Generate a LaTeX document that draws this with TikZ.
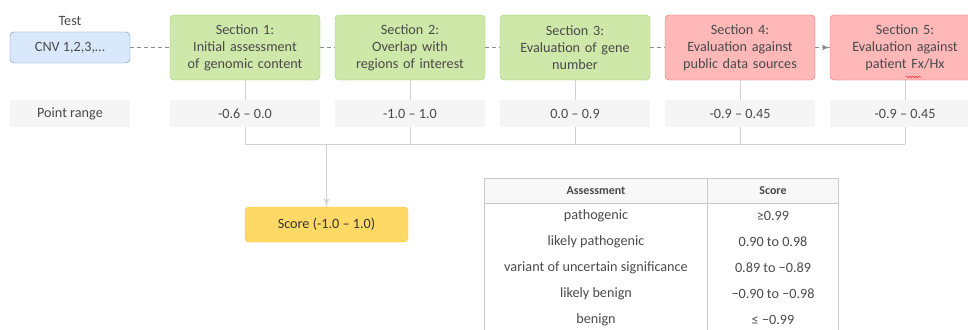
\documentclass[tikz,border=0pt]{standalone}
\usepackage{fontspec}
\setmainfont{Carlito}
\usetikzlibrary{arrows}
\usetikzlibrary{decorations.markings}
\usetikzlibrary{decorations.pathmorphing}
\definecolor{txtgray}{HTML}{4A4A4A}
\definecolor{lnkgray}{HTML}{D2D2D2}
\definecolor{dshgray}{HTML}{8C8C8C}
\definecolor{cnvfill}{HTML}{DAE8FC}
\definecolor{cnvdraw}{HTML}{6C8EBF}
\definecolor{grnfill}{HTML}{CDE8A8}
\definecolor{grndraw}{HTML}{97D077}
\definecolor{redfill}{HTML}{FFB8B8}
\definecolor{reddraw}{HTML}{EA6B66}
\definecolor{ylwfill}{HTML}{FFD966}
\definecolor{ylwdraw}{HTML}{F2C037}
\definecolor{rngfill}{HTML}{F5F5F5}
\definecolor{tblline}{HTML}{C9C9C9}
\tikzset{basebox/.style = {rounded corners=4pt, inner sep=0pt, align=center, text=txtgray,
                           font=\fontsize{14.2}{17}\selectfont},
         secbox/.style = {basebox, minimum width=150pt, minimum height=65pt, text width=148pt},
         grnbox/.style = {secbox, fill=grnfill, draw=grndraw},
         redbox/.style = {secbox, fill=redfill, draw=reddraw},
         rangebox/.style = {basebox, rounded corners=0pt, fill=rngfill, minimum width=150pt, minimum height=27pt},
         cellnode/.style = {text=txtgray, inner sep=0pt, font=\fontsize{14.2}{16}\selectfont},
         headnode/.style = {cellnode, font=\fontsize{12}{14}\selectfont\bfseries},
         graylink/.style = {lnkgray, line width=1pt},
         dashlink/.style = {dshgray, dashed, dash pattern=on 4pt off 3pt, line width=0.8pt},
         tip/.style = {decoration={markings, mark=at position 1 with {\arrow[scale=1.5]{latex'}}},
                       postaction={decorate}}}

\begin{document}
\begin{tikzpicture}[x=1pt, y=-1pt]
    \useasboundingbox (0, 0) rectangle (968, 329);

    \node [basebox, fill=cnvfill, draw=cnvdraw, minimum width=120pt, minimum height=31pt] (cnv) at (70, 47.5) {CNV 1,2,3,…};
    \node [basebox, above=6pt] (test) at (cnv.north) {Test};

    \node [grnbox] (sec1) at (245, 47.5) {Section 1:\\Initial assessment\\of genomic content};
    \node [grnbox] (sec2) at (410, 47.5) {Section 2:\\Overlap with\\regions of interest};
    \node [grnbox] (sec3) at (575, 47.5) {Section 3:\\Evaluation of gene\\number};
    \node [redbox] (sec4) at (740, 47.5) {Section 4:\\Evaluation against\\public data sources};
    \node [redbox] (sec5) at (905, 47.5) {Section 5:\\Evaluation against\\patient Fx/Hx};

    \draw [dashlink] (cnv) -- (sec1);
    \draw [dashlink] (sec1) -- (sec2);
    \draw [dashlink] (sec2) -- (sec3);
    \draw [dashlink] (sec3) -- (sec4);
    \draw [dashlink, tip] (sec4) -- (sec5);

    % spell check mark under Fx
    \draw [red!80, line width=0.6pt, decorate, decoration={snake, amplitude=0.8pt, segment length=3pt}] (906, 77) -- (921, 77);

    \node [rangebox, minimum width=120pt] (pts) at (70, 113.5) {Point range};
    \node [rangebox] (rng1) at (245, 113.5) {-0.6 – 0.0};
    \node [rangebox] (rng2) at (410, 113.5) {-1.0 – 1.0};
    \node [rangebox] (rng3) at (575, 113.5) {0.0 – 0.9};
    \node [rangebox] (rng4) at (740, 113.5) {-0.9 – 0.45};
    \node [rangebox] (rng5) at (905, 113.5) {-0.9 – 0.45};

    \coordinate (bus1) at (245, 144);
    \coordinate (bus2) at (410, 144);
    \coordinate (bus3) at (575, 144);
    \coordinate (bus4) at (740, 144);
    \coordinate (bus5) at (905, 144);
    \coordinate (tap) at (326.5, 144);

    \draw [graylink] (sec1) -- (rng1);
    \draw [graylink] (sec2) -- (rng2);
    \draw [graylink] (sec3) -- (rng3);
    \draw [graylink] (sec4) -- (rng4);
    \draw [graylink] (sec5) -- (rng5);
    \draw [graylink] (rng1) -- (bus1);
    \draw [graylink] (rng2) -- (bus2);
    \draw [graylink] (rng3) -- (bus3);
    \draw [graylink] (rng4) -- (bus4);
    \draw [graylink] (rng5) -- (bus5);
    \draw [graylink] (bus1) -- (bus5);

    \node [basebox, fill=ylwfill, draw=ylwdraw, text=black!80, minimum width=163pt, minimum height=35pt] (score) at (326.5, 224.5) {Score (-1.0 – 1.0)};
    \draw [graylink, tip] (tap) -- (score);

    % table
    \fill [rngfill!70!white] (484, 178) rectangle (838, 203.5);
    \draw [tblline, line width=0.8pt] (484, 340) -- (484, 178) -- (838, 178) -- (838, 340);
    \draw [tblline, line width=0.8pt] (484, 203.5) -- (838, 203.5);
    \draw [tblline, line width=0.8pt] (707.5, 178) -- (707.5, 340);

    \node [headnode] (hda) at (596, 191) {Assessment};
    \node [headnode] (hds) at (773, 191) {Score};

    \node [cellnode] (as1) at (596, 216) {pathogenic};
    \node [cellnode] (as2) at (596, 242) {likely pathogenic};
    \node [cellnode] (as3) at (596, 268) {variant of uncertain significance};
    \node [cellnode] (as4) at (596, 294) {likely benign};
    \node [cellnode] (as5) at (596, 320) {benign};

    \node [cellnode] (sc1) at (773, 216) {≥0.99};
    \node [cellnode] (sc2) at (773, 242) {0.90 to 0.98};
    \node [cellnode] (sc3) at (773, 268) {0.89 to −0.89};
    \node [cellnode] (sc4) at (773, 294) {−0.90 to −0.98};
    \node [cellnode] (sc5) at (773, 320) {≤ −0.99};
  \end{tikzpicture}
\end{document}
